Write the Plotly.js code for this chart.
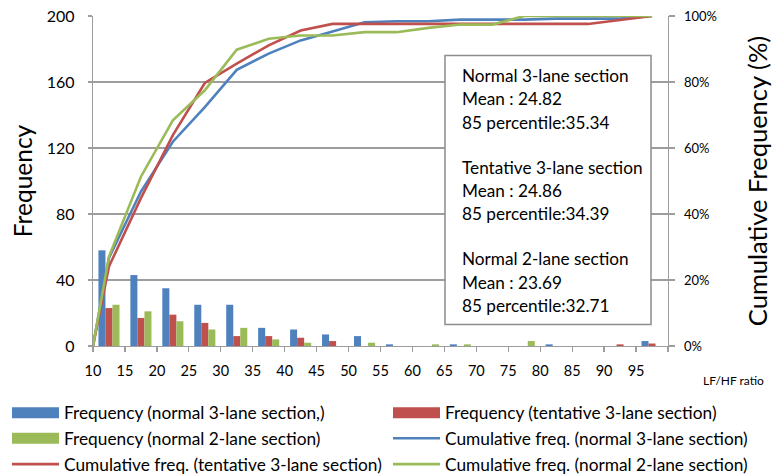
<!DOCTYPE html>
<html>
<head>
<meta charset="utf-8">
<script src="https://cdn.plot.ly/plotly-3.0.1.min.js"></script>
<style>
  html, body { margin: 0; padding: 0; background: #fff; }
  #chart { width: 772px; height: 476px; }
</style>
</head>
<body>
<div id="chart"></div>
<script>
// ---- data ----
const binLabels = ['10','15','20','25','30','35','40','45','50','55','60','65','70','75','80','85','90','95'];
const freqNormal3 = [58, 43, 35, 25, 25, 11, 10, 7, 6, 1, 0, 1, 0, 0, 1, 0, 0, 3];
const freqTentative3 = [23, 17, 19, 14, 6, 6, 5, 3, 0, 0, 0, 0, 0, 0, 0, 0, 1, 1.5];
const freqNormal2 = [25, 21, 15, 10, 11, 4, 2, 0, 2, 0, 1, 1, 0, 3, 0, 0, 0, 0];
// cumulative % (first value = start of the first bin)
const cumNormal3 = [0, 26.7, 46.8, 61.9, 72.4, 83.7, 88.6, 92.6, 95.3, 98.1, 98.4, 98.4, 98.9, 98.9, 98.9, 99.2, 99.2, 99.2, 100];
const cumTentative3 = [0, 24.1, 44.8, 63.9, 79.7, 85.6, 91.1, 95.6, 97.6, 97.6, 97.6, 97.6, 97.6, 97.6, 97.6, 97.6, 97.6, 98.8, 100];
const cumNormal2 = [0, 27.1, 51.3, 68.4, 77.5, 89.8, 93.1, 94.1, 94.1, 95.1, 95.1, 96.4, 97.4, 97.4, 100, 100, 100, 100, 100];
const seriesNames = [
  'Frequency (normal 3-lane section,)',
  'Frequency (tentative 3-lane section)',
  'Frequency (normal 2-lane section)',
  'Cumulative freq. (normal 3-lane section)',
  'Cumulative freq. (tentative 3-lane section)',
  'Cumulative freq. (normal 2-lane section)'
];
const statGroups = [
  ['Normal 3-lane section', 'Mean : 24.82', '85 percentile:35.34'],
  ['Tentative 3-lane section', 'Mean : 24.86', '85 percentile:34.39'],
  ['Normal 2-lane section', 'Mean : 23.69', '85 percentile:32.71']
];

// ---- styling ----
const BLUE = '#4F81BD', RED = '#C0504D', GREEN = '#9BBB59';
const GRID = '#9d9d9d';
const FONT = 'Lato, "Open Sans", sans-serif';

const barX = binLabels.map((_, i) => i + 0.5);
const lineX = [0].concat(barX);
const tickVals = binLabels.map((_, i) => i).concat([binLabels.length]);
const tickText = binLabels.concat(['']);

const traces = [
  {type: 'bar', x: barX, y: freqNormal3, name: seriesNames[0], marker: {color: BLUE}},
  {type: 'bar', x: barX, y: freqTentative3, name: seriesNames[1], marker: {color: RED}},
  {type: 'bar', x: barX, y: freqNormal2, name: seriesNames[2], marker: {color: GREEN}},
  {type: 'scatter', mode: 'lines', x: lineX, y: cumNormal3, yaxis: 'y2', name: seriesNames[3], line: {color: BLUE, width: 2.6}},
  {type: 'scatter', mode: 'lines', x: lineX, y: cumTentative3, yaxis: 'y2', name: seriesNames[4], line: {color: RED, width: 2.6}},
  {type: 'scatter', mode: 'lines', x: lineX, y: cumNormal2, yaxis: 'y2', name: seriesNames[5], line: {color: GREEN, width: 2.6}}
];

// pixel -> paper helpers (plot area: x 93..668, y 15.5..346.5)
const L = 93, W = 575, B = 346.5, H = 331;
const px = p => (p - L) / W;
const py = p => (B - p) / H;

const shapes = [];
const annotations = [];

// stats box
shapes.push({type: 'rect', xref: 'paper', yref: 'paper', x0: px(445), x1: px(651), y0: py(325), y1: py(55),
  line: {color: '#8c8c8c', width: 1.5}, fillcolor: '#ffffff', layer: 'above'});
statGroups.forEach((g, gi) => {
  g.forEach((t, li) => {
    annotations.push({xref: 'paper', yref: 'paper', x: px(460), y: py(75 + gi * 92 + li * 23.5),
      xanchor: 'left', yanchor: 'middle', showarrow: false, text: t,
      font: {family: FONT, size: 17.2, color: '#000'}});
  });
});

// x-axis unit label
annotations.push({xref: 'paper', yref: 'paper', x: px(766), y: py(381), xanchor: 'right', yanchor: 'middle',
  showarrow: false, text: 'LF/HF ratio', font: {family: FONT, size: 12, color: '#000'}});

// legend (drawn as key patches + text)
const legendCols = [12, 393];
const legendRows = [413.5, 439, 465];
const legendOrder = [
  [0, 0, 'bar', BLUE], [0, 1, 'bar', RED],
  [1, 0, 'bar', GREEN], [1, 1, 'line', BLUE],
  [2, 0, 'line', RED], [2, 1, 'line', GREEN]
];
legendOrder.forEach((e, k) => {
  const [r, c, kind, col] = e;
  const x0 = legendCols[c], x1 = x0 + 47, yc = legendRows[r];
  if (kind === 'bar') {
    shapes.push({type: 'rect', xref: 'paper', yref: 'paper', x0: px(x0), x1: px(x1), y0: py(yc + 5.5), y1: py(yc - 5.5),
      line: {width: 0}, fillcolor: col});
  } else {
    shapes.push({type: 'line', xref: 'paper', yref: 'paper', x0: px(x0), x1: px(x1), y0: py(yc), y1: py(yc),
      line: {color: col, width: 2.6}});
  }
  annotations.push({xref: 'paper', yref: 'paper', x: px(x1 + 3), y: py(yc), xanchor: 'left', yanchor: 'middle',
    showarrow: false, text: seriesNames[k], font: {family: FONT, size: 17.3, color: '#000'}});
});

const layout = {
  width: 772, height: 476,
  margin: {l: 93, r: 104, t: 15.5, b: 129.5, pad: 0},
  paper_bgcolor: '#fff', plot_bgcolor: '#fff',
  font: {family: FONT, color: '#000'},
  showlegend: false,
  barmode: 'group', bargap: 0.34, bargroupgap: 0,
  xaxis: {
    range: [0, binLabels.length], tickmode: 'array', tickvals: tickVals, ticktext: tickText,
    showgrid: false, zeroline: false, showline: true, linecolor: GRID, linewidth: 1.3,
    ticks: 'outside', ticklen: 5, tickcolor: GRID, tickwidth: 1.3,
    tickfont: {family: FONT, size: 14.5, color: '#000'}, ticklabelstandoff: 6
  },
  yaxis: {
    range: [0, 200], tickmode: 'linear', tick0: 0, dtick: 40,
    showgrid: true, gridcolor: GRID, gridwidth: 1.3, zeroline: false,
    showline: true, linecolor: GRID, linewidth: 1.3,
    ticks: 'outside', ticklen: 4, tickcolor: GRID, tickwidth: 1.3,
    tickfont: {family: FONT, size: 16, color: '#000'}, ticklabelstandoff: 10,
    title: {text: 'Frequency', font: {family: FONT, size: 24.5, color: '#000'}, standoff: 7}
  },
  yaxis2: {
    range: [0, 100], overlaying: 'y', side: 'right', tickmode: 'linear', tick0: 0, dtick: 20, ticksuffix: '%',
    showgrid: false, zeroline: false, showline: true, linecolor: GRID, linewidth: 1.3,
    ticks: 'outside', ticklen: 6, tickcolor: GRID, tickwidth: 1.3,
    tickfont: {family: FONT, size: 13, color: '#000'}, ticklabelstandoff: 6,
    title: {text: 'Cumulative Frequency (%)', font: {family: FONT, size: 25.5, color: '#000'}, standoff: 38}
  },
  shapes: shapes,
  annotations: annotations
};

Plotly.newPlot('chart', traces, layout, {displayModeBar: false, staticPlot: true});
</script>
</body>
</html>
